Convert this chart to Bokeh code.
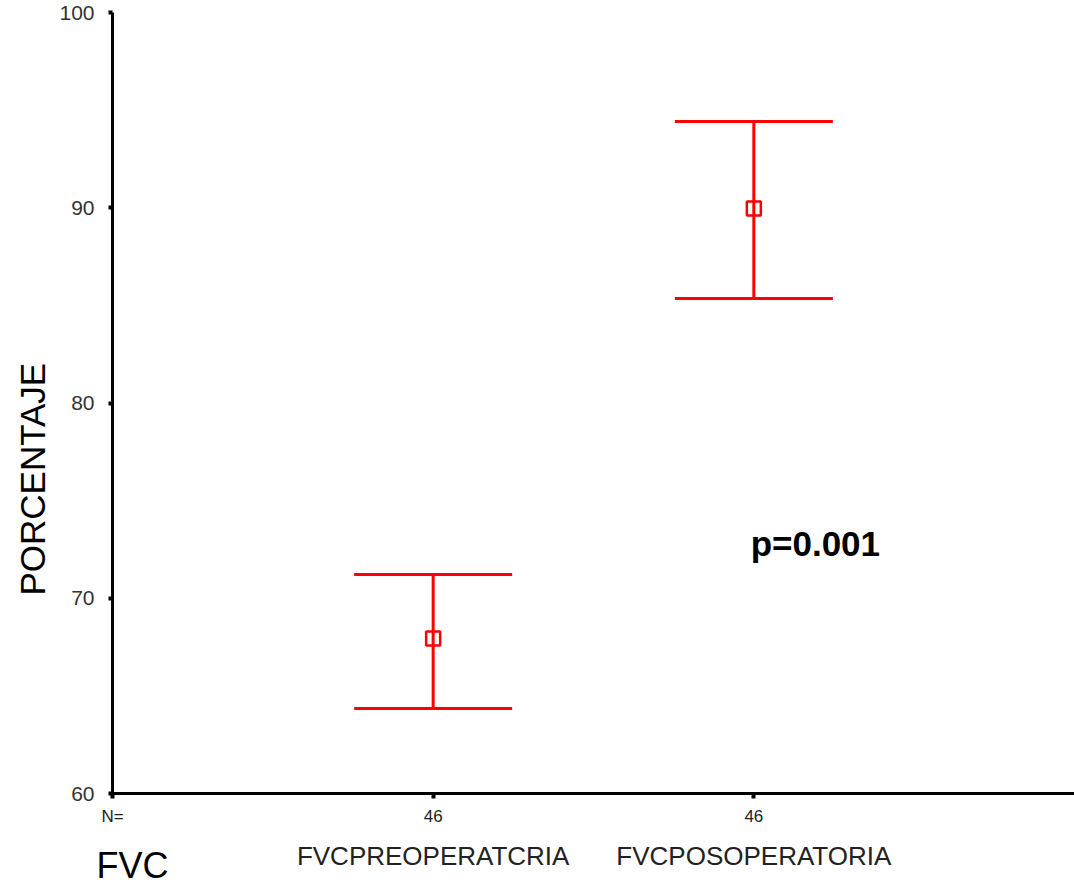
from bokeh.plotting import figure
from bokeh.models import (ColumnDataSource, Whisker, TeeHead, LinearAxis, FixedTicker, Label, Title)
from bokeh.embed import file_html
from bokeh.resources import INLINE

categories = ["FVCPREOPERATCRIA", "FVCPOSOPERATORIA"]
n_values = [46, 46]
means = [67.94, 89.96]
upper = [71.22, 94.42]
lower = [64.35, 85.35]
positions = [1, 2]
y_ticks = [60, 70, 80, 90, 100]

FONT = "Liberation Sans"
RED = "#ff0000"

p = figure(width=1074, height=888, output_backend="svg", toolbar_location=None,
           x_range=(0, 3), y_range=(60, 100),
           min_border_left=112, min_border_right=0, min_border_top=12, min_border_bottom=95,
           x_axis_type=None, y_axis_type=None)
p.outline_line_color = None
p.grid.visible = False
p.background_fill_color = "white"

# Y axis
yaxis = LinearAxis(ticker=FixedTicker(ticks=y_ticks))
yaxis.axis_line_width = 3
yaxis.axis_line_color = "black"
yaxis.major_tick_line_width = 4
yaxis.major_tick_out = 4
yaxis.major_tick_in = 0
yaxis.minor_tick_line_color = None
yaxis.major_label_text_font = FONT
yaxis.major_label_text_font_size = "21px"
yaxis.major_label_text_color = "#333333"
yaxis.major_label_standoff = 14
p.add_layout(yaxis, "left")

p.add_layout(Title(text="PORCENTAJE", align="left", offset=198, standoff=5,
                   vertical_align="top",
                   text_font=FONT, text_font_size="35px", text_font_style="normal",
                   text_color="black"), "left")

# X axis with N counts
xaxis = LinearAxis(ticker=FixedTicker(ticks=[0] + positions))
xaxis.major_label_overrides = {0: "N=", **{pos: str(n) for pos, n in zip(positions, n_values)}}
xaxis.axis_line_width = 3
xaxis.axis_line_color = "black"
xaxis.major_tick_line_width = 4
xaxis.major_tick_out = 5
xaxis.major_tick_in = 0
xaxis.minor_tick_line_color = None
xaxis.major_label_text_font = FONT
xaxis.major_label_text_font_size = "17px"
xaxis.major_label_text_color = "#222222"
xaxis.major_label_standoff = 8
p.add_layout(xaxis, "below")

# Category names axis
caxis = LinearAxis(ticker=FixedTicker(ticks=positions))
caxis.major_label_overrides = {pos: c for pos, c in zip(positions, categories)}
caxis.axis_line_color = None
caxis.major_tick_line_color = None
caxis.minor_tick_line_color = None
caxis.major_label_text_font = FONT
caxis.major_label_text_font_size = "26px"
caxis.major_label_text_color = "#222222"
caxis.major_label_standoff = 6
caxis.axis_label = "\u00a0\u00a0\u00a0\u00a0FVC"
caxis.axis_label_text_font = FONT
caxis.axis_label_text_font_size = "36px"
caxis.axis_label_text_font_style = "normal"
caxis.axis_label_text_color = "black"
caxis.axis_label_standoff = -29
caxis.axis_label_align = "start"
p.add_layout(caxis, "below")

src = ColumnDataSource(dict(x=positions, mean=means, upper=upper, lower=lower))

w = Whisker(source=src, base="x", upper="upper", lower="lower", dimension="height",
            line_color=RED, line_width=3,
            upper_head=TeeHead(size=158, line_color=RED, line_width=3),
            lower_head=TeeHead(size=158, line_color=RED, line_width=3))
p.add_layout(w)

p.scatter("x", "mean", source=src, marker="square", size=14, fill_alpha=0,
          line_color=RED, line_width=2.5)

p.add_layout(Label(x=1.99, y=72.8, text="p=0.001", text_font=FONT, text_font_size="35px",
                   text_font_style="bold", text_color="black",
                   text_align="left", text_baseline="middle"))

open("out.html", "w").write(file_html(p, INLINE))
